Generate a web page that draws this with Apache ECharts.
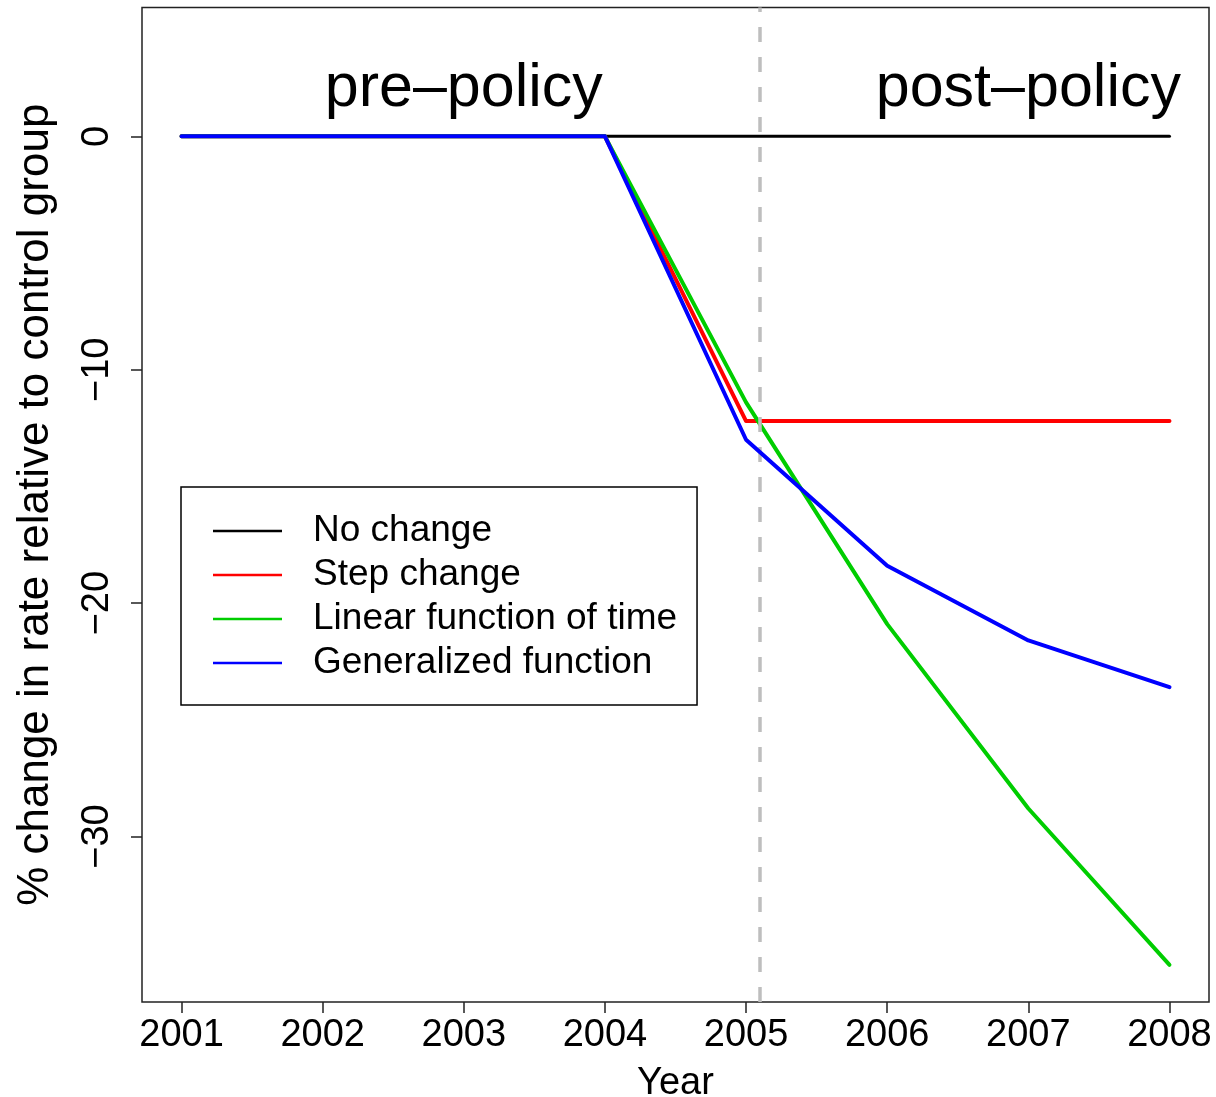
<!DOCTYPE html>
<html>
<head>
<meta charset="utf-8">
<title>Policy effect scenarios</title>
<script src="https://cdn.jsdelivr.net/npm/echarts@6/dist/echarts.min.js"></script>
<style>
  html, body { margin: 0; padding: 0; background: #fff; }
  #chart { width: 1216px; height: 1097px; }
</style>
</head>
<body>
<div id="chart"></div>
<script>
// Years on the horizontal axis
const years = [2001, 2002, 2003, 2004, 2005, 2006, 2007, 2008];

// % change in rate relative to the control group, one array per scenario
const noChange    = [0, 0, 0, 0, 0, 0, 0, 0];
const stepChange  = [0, 0, 0, 0, -12.2, -12.2, -12.2, -12.2];
const linearTime  = [0, 0, 0, 0, -11.4, -20.9, -28.8, -35.5];
const generalized = [0, 0, 0, 0, -13.0, -18.4, -21.6, -23.6];

const seriesNames = ['No change', 'Step change', 'Linear function of time', 'Generalized function'];

// Axis ticks
const xTicks = [2001, 2002, 2003, 2004, 2005, 2006, 2007, 2008];
const yTicks = [0, -10, -20, -30];

// Policy start and period labels
const policyStart = 2005.1;
const periodLabels = [
  { name: 'pre\u2013policy', x: 2003, y: 2 },
  { name: 'post\u2013policy', x: 2007, y: 2 }
];

const FONT = '"Liberation Sans", Arial, Helvetica, sans-serif';

const pairs = arr => years.map((yr, i) => [yr, arr[i]]);
const minus = v => (v < 0 ? '\u2212' + Math.abs(v) : String(v));

const lineSeries = (name, data, color, width, z) => ({
  name,
  type: 'line',
  data: pairs(data),
  symbol: 'none',
  z,
  lineStyle: { color, width, cap: 'round', join: 'round' },
  itemStyle: { color },
  emphasis: { disabled: true }
});

const chart = echarts.init(document.getElementById('chart'));
chart.setOption({
  animation: false,
  backgroundColor: '#fff',
  textStyle: { fontFamily: FONT },
  grid: {
    left: 142, top: 7.5, right: 7, bottom: 95,
    outerBoundsMode: 'none',
    containLabel: false,
    show: true, borderColor: '#222', borderWidth: 1.5, backgroundColor: 'transparent'
  },
  xAxis: {
    type: 'value',
    min: 2000.72, max: 2008.28,
    name: 'Year',
    nameLocation: 'middle',
    nameGap: 63,
    nameTextStyle: { fontSize: 38, color: '#000', fontFamily: FONT },
    axisLine: { show: false, onZero: false },
    splitLine: { show: false },
    axisTick: {
      show: true, inside: false, length: 11,
      customValues: xTicks,
      lineStyle: { color: '#222', width: 1.5 }
    },
    axisLabel: {
      customValues: xTicks,
      margin: 15,
      fontSize: 38, color: '#000', fontFamily: FONT,
      formatter: v => String(v)
    }
  },
  yAxis: {
    type: 'value',
    min: -37.09, max: 5.52,
    name: '% change in rate relative to control group',
    nameLocation: 'middle',
    nameGap: 84,
    nameTextStyle: { fontSize: 44, color: '#000', fontFamily: FONT },
    axisLine: { show: false, onZero: false },
    splitLine: { show: false },
    axisTick: {
      show: true, inside: false, length: 11,
      customValues: yTicks,
      lineStyle: { color: '#222', width: 1.5 }
    },
    axisLabel: {
      customValues: yTicks,
      rotate: 90,
      margin: 25,
      fontSize: 38, color: '#000', fontFamily: FONT,
      formatter: minus
    }
  },
  legend: {
    data: seriesNames,
    orient: 'vertical',
    left: 181, top: 487,
    padding: [22, 20, 20, 32],
    icon: 'rect',
    itemWidth: 69, itemHeight: 2.5, itemGap: 0,
    borderColor: '#000', borderWidth: 1.5,
    backgroundColor: '#fff',
    selectedMode: false,
    textStyle: {
      fontSize: 37, color: '#000', fontFamily: FONT,
      lineHeight: 44, padding: [0, 0, 0, 26]
    }
  },
  series: [
    lineSeries(seriesNames[0], noChange, '#000000', 3, 2),
    lineSeries(seriesNames[1], stepChange, '#FF0000', 4, 3),
    lineSeries(seriesNames[2], linearTime, '#00CD00', 4, 4),
    lineSeries(seriesNames[3], generalized, '#0000FF', 4, 5),
    {
      name: 'policy start',
      type: 'line',
      data: [],
      z: 6,
      markLine: {
        silent: true,
        symbol: ['none', 'none'],
        label: { show: false },
        lineStyle: { color: '#BEBEBE', type: [15, 15], width: 3.5 },
        data: [{ xAxis: policyStart }]
      }
    },
    {
      name: 'period labels',
      type: 'scatter',
      symbolSize: 0,
      z: 7,
      itemStyle: { color: '#000000', opacity: 1 },
      data: periodLabels.map(p => ({ name: p.name, value: [p.x, p.y] })),
      label: {
        show: true,
        position: [0, 0],
        formatter: p => p.name,
        fontSize: 61, color: '#000000', opacity: 1, fontFamily: FONT,
        align: 'center', verticalAlign: 'middle'
      },
      emphasis: { disabled: true }
    }
  ]
});
</script>
</body>
</html>
